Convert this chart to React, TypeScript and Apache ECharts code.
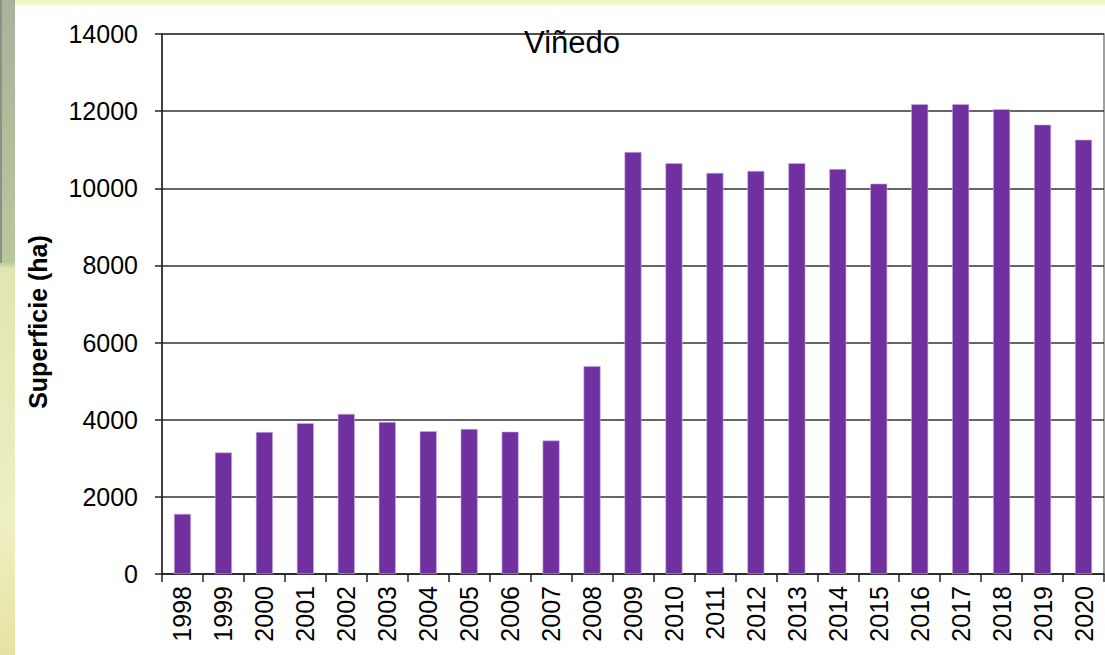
import React, { useEffect, useRef } from "react";
import * as echarts from "echarts";

const years = ["1998","1999","2000","2001","2002","2003","2004","2005","2006","2007","2008","2009","2010","2011","2012","2013","2014","2015","2016","2017","2018","2019","2020"];
const superficie = [1560,3150,3680,3910,4150,3940,3700,3760,3690,3460,5390,10940,10650,10400,10450,10650,10500,10120,12180,12180,12050,11650,11260];
const chartTitle = "Viñedo";
const yAxisName = "Superficie (ha)";

export default function App() {
  const ref = useRef<HTMLDivElement>(null);
  useEffect(() => {
    if (!ref.current) return;
    const chart = echarts.init(ref.current, null, { renderer: "svg" });
    chart.setOption({
      animation: false,
      backgroundColor: "#ffffff",
      graphic: [
        { type: "rect", z: -10, shape: { x: 0, y: 0, width: 1105, height: 5 }, style: { fill: "#f3f5c8" }, silent: true },
        { type: "rect", z: -10, shape: { x: 0, y: 0, width: 15, height: 655 }, style: { fill: new echarts.graphic.LinearGradient(0, 0, 0, 1, [
          { offset: 0, color: "#a9b39a" }, { offset: 0.4, color: "#b9c79c" }, { offset: 0.41, color: "#dfe6b0" }, { offset: 0.8, color: "#eef0c0" }, { offset: 1, color: "#e6e2a0" }
        ]) }, silent: true },
        { type: "rect", z: -10, shape: { x: 0, y: 0, width: 2, height: 263 }, style: { fill: "#8c8f8a" }, silent: true },
        { type: "text", x: 572, y: 27, z: 10, style: { text: chartTitle, textAlign: "center", textVerticalAlign: "top", fontSize: 31, fontFamily: "Liberation Sans, Arial", fill: "#000" } },
        { type: "text", x: 38, y: 322, rotation: Math.PI / 2, z: 10, style: { text: yAxisName, textAlign: "center", textVerticalAlign: "middle", fontSize: 25, fontWeight: "bold", fontFamily: "Liberation Sans, Arial", fill: "#000" } }
      ],
      grid: { left: 162, right: 1, top: 34, bottom: 81, show: true, borderColor: "#808080", borderWidth: 1.5 },
      xAxis: {
        type: "category",
        data: years,
        axisLine: { lineStyle: { color: "#222", width: 1.5 } },
        axisTick: { show: true, length: 8, alignWithLabel: false, lineStyle: { color: "#222", width: 1.5 } },
        axisLabel: { rotate: 90, fontSize: 25, color: "#000", fontFamily: "Liberation Sans, Arial", margin: 12, interval: 0 },
      },
      yAxis: {
        type: "value",
        min: 0,
        max: 14000,
        interval: 2000,
        axisLine: { show: true, lineStyle: { color: "#222", width: 1.5 } },
        axisTick: { show: true, length: 7, lineStyle: { color: "#222", width: 1.5 } },
        axisLabel: { fontSize: 25, color: "#000", fontFamily: "Liberation Sans, Arial", margin: 24, formatter: (v: number) => String(v) },
        splitLine: { lineStyle: { color: "#333", width: 1.5 } },
      },
      series: [
        {
          type: "bar",
          data: superficie,
          barWidth: 17,
          itemStyle: { color: "#7030a0", borderColor: "#c9b0e0", borderWidth: 0.6 },
        },
      ],
    });
    return () => chart.dispose();
  }, []);
  return <div ref={ref} style={{ position: "absolute", left: 0, top: 0, width: 1105, height: 655 }} />;
}
